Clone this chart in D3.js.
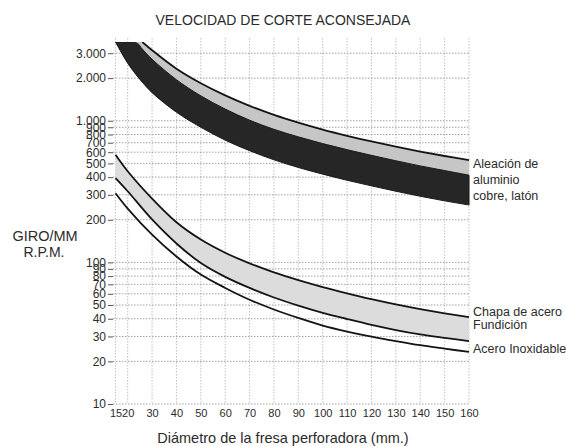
<!DOCTYPE html>
<html>
<head>
<meta charset="utf-8">
<script src="https://cdn.jsdelivr.net/npm/d3@7"></script>
<style>
body { margin: 0; background: #fff; }
svg text { font-family: "Liberation Sans", Arial, Helvetica, sans-serif; fill: #2b2b2b; }
</style>
</head>
<body>
<div id="chart"></div>
<script>

// diametros (mm) y rpm
var diam = [15, 20, 30, 40, 50, 60, 70, 80, 90, 100, 110, 120, 130, 140, 150, 160];
var chapa = [575, 440, 282, 192, 145, 117, 98.5, 85, 75, 67, 60.5, 55, 50.5, 46.8, 43.7, 41];
var fundicion = [394, 318, 201, 136, 99, 79, 66, 56.5, 49.5, 44, 39.8, 36.2, 33.3, 31, 29.3, 27.8];
var inoxidable = [308, 240, 157, 110, 82, 66, 54.5, 46.5, 40.5, 35.8, 32.5, 29.9, 27.8, 26, 24.6, 23.3];

// aluminio / cobre / laton (las curvas salen por arriba del marco, 3600 = borde)
var diamAlu = [15, 20, 24, 26, 30, 40, 50, 60, 70, 80, 90, 100, 110, 120, 130, 140, 150, 160];
var aluSup = [3600, 3600, 3600, 3600, 3150, 2330, 1840, 1510, 1275, 1100, 970, 866, 783, 714, 656, 606, 564, 527];
var aluMed = [3600, 3600, 3520, 3210, 2720, 1950, 1500, 1210, 1010, 870, 770, 690, 625, 570, 522, 480, 445, 413];
var aluInf = [3600, 2550, 2057, 1872, 1580, 1150, 900, 730, 615, 530, 468, 420, 380, 347, 318, 293, 272, 254];

var xTicks = [15, 20, 30, 40, 50, 60, 70, 80, 90, 100, 110, 120, 130, 140, 150, 160];
var yTicks = [10, 20, 30, 40, 50, 60, 70, 80, 90, 100, 200, 300, 400, 500, 600, 700, 800, 900, 1000, 2000, 3000];

var width = 566
var height = 446

var svg = d3.select("#chart").append("svg")
    .attr("width", width)
    .attr("height", height)

svg.append("rect")
    .attr("width", width)
    .attr("height", height)
    .attr("fill", "#fff")

var x = d3.scaleLinear().domain([15, 160]).range([115.5, 469])
var y = d3.scaleLog().domain([10, 3600]).range([404, 42])

var es = d3.formatLocale({ decimal: ",", thousands: ".", grouping: [3], currency: ["", ""] })
var fmt = es.format(",")

// rejilla punteada
var grid = svg.append("g")
    .attr("stroke", "#8a8a8a")
    .attr("stroke-width", 0.8)
    .attr("stroke-dasharray", "1.5,1.5")

grid.selectAll(".v").data(xTicks).enter().append("line")
    .attr("x1", d => x(d)).attr("x2", d => x(d))
    .attr("y1", 38).attr("y2", 404)
    .attr("stroke-opacity", 0.65)

grid.selectAll(".h").data(yTicks).enter().append("line")
    .attr("x1", 113).attr("x2", 470)
    .attr("y1", d => y(d)).attr("y2", d => y(d))

svg.append("clipPath").attr("id", "marco")
    .append("rect")
    .attr("x", 100).attr("y", y(3600))
    .attr("width", 380).attr("height", 404 - y(3600))

var plot = svg.append("g").attr("clip-path", "url(#marco)")

var curva = d3.curveCatmullRom.alpha(0.5)

var area = function(xs, hi, lo) {
    return d3.area()
        .x((d, i) => x(xs[i]))
        .y0((d, i) => y(lo[i]))
        .y1((d, i) => y(hi[i]))
        .curve(curva)(xs)
}

var line = function(xs, vals, from) {
    return d3.line()
        .defined((d, i) => xs[i] >= from)
        .x((d, i) => x(xs[i]))
        .y((d, i) => y(vals[i]))
        .curve(curva)(xs)
}

// bandas
plot.append("path").attr("d", area(diamAlu, aluSup, aluMed)).attr("fill", "#c6c6c6")
plot.append("path").attr("d", area(diamAlu, aluMed, aluInf)).attr("fill", "#262626")
    .attr("stroke", "#1a1a1a").attr("stroke-width", 1)
plot.append("path").attr("d", area(diam, chapa, fundicion)).attr("fill", "#dcdcdc")

plot.append("path").attr("d", line(diamAlu, aluSup, 26))
    .attr("fill", "none").attr("stroke", "#141414").attr("stroke-width", 1.8)

;[chapa, fundicion, inoxidable].forEach(function(s) {
    plot.append("path").attr("d", line(diam, s, 15))
        .attr("fill", "none").attr("stroke", "#141414").attr("stroke-width", 1.8)
})

// ejes
var yAxis = svg.append("g")
    .attr("transform", "translate(113,0)")
    .call(d3.axisLeft(y).tickValues(yTicks).tickFormat(fmt).tickSize(5).tickPadding(2))
yAxis.select(".domain").remove()
yAxis.selectAll("line").attr("stroke", "#555")
yAxis.selectAll("text").attr("font-size", "12px").style("fill", "#2b2b2b")

var xAxis = svg.append("g")
    .attr("transform", "translate(0,404)")
    .call(d3.axisBottom(x).tickValues(xTicks).tickSize(0).tickPadding(5))
xAxis.select(".domain").remove()
xAxis.selectAll("text").attr("font-size", "11px").style("fill", "#2b2b2b")

// textos
svg.append("text")
    .attr("x", 283).attr("y", 25)
    .attr("text-anchor", "middle")
    .attr("font-size", "14px")
    .text("VELOCIDAD DE CORTE ACONSEJADA")

svg.append("text")
    .attr("x", 283).attr("y", 443)
    .attr("text-anchor", "middle")
    .attr("font-size", "14.5px")
    .text("Diámetro de la fresa perforadora (mm.)")

svg.append("text").attr("x", 45).attr("y", 241)
    .attr("text-anchor", "middle").attr("font-size", "14.5px").text("GIRO/MM")
svg.append("text").attr("x", 44).attr("y", 257)
    .attr("text-anchor", "middle").attr("font-size", "14px").text("R.P.M.")

var etiquetas = [
    ["Aleación de", 168], ["aluminio", 184], ["cobre, latón", 199.5],
    ["Chapa de acero", 316], ["Fundición", 329], ["Acero Inoxidable", 353]
]
svg.selectAll(".leyenda").data(etiquetas).enter().append("text")
    .attr("x", 473)
    .attr("y", d => d[1])
    .attr("font-size", "12.5px")
    .text(d => d[0])

</script>
</body>
</html>
